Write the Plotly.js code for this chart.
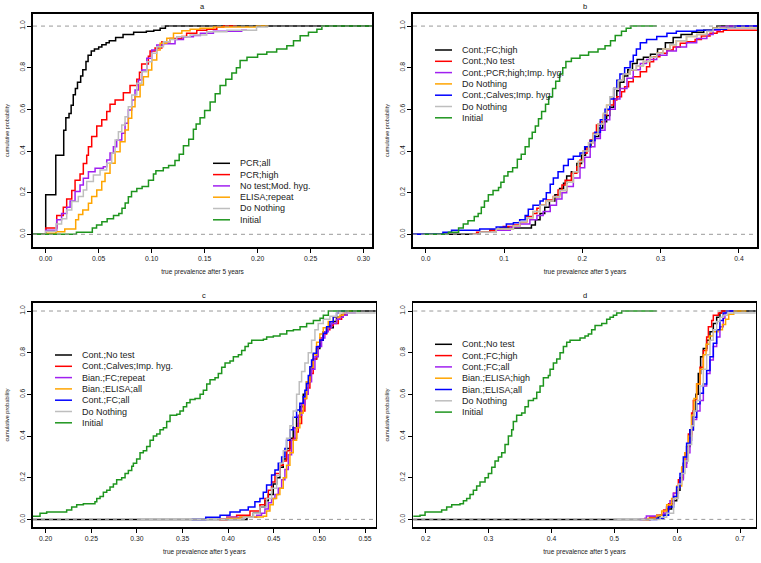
<!DOCTYPE html>
<html><head><meta charset="utf-8">
<script src="https://cdn.plot.ly/plotly-3.0.1.min.js"></script>
<style>html,body{margin:0;padding:0;background:#fff}#chart{width:761px;height:563px}</style>
</head><body><div id="chart"></div>
<script>
// ---------------- DATA (knots of empirical CDFs: [prevalence, cumulative probability]) -------------
// Panel a
const aLabels = ["PCR;all","PCR;high","No test;Mod. hyg.","ELISA;repeat","Do Nothing","Initial"];
const aXTicks = [0.00,0.05,0.10,0.15,0.20,0.25,0.30];
const a_PCRall = [[-0.05,0],[0,0.19],[0.0095,0.38],[0.017,0.50],[0.019,0.56],[0.022,0.58],[0.024,0.62],[0.026,0.67],[0.028,0.70],[0.030,0.73],[0.033,0.76],[0.035,0.79],[0.038,0.83],[0.040,0.86],[0.043,0.88],[0.046,0.89],[0.050,0.90],[0.053,0.91],[0.057,0.92],[0.060,0.93],[0.066,0.945],[0.073,0.96],[0.083,0.97],[0.095,0.975],[0.102,0.98],[0.108,0.99],[0.113,1.0],[0.40,1.0]];
const a_PCRhigh = [[-0.003,0],[0,0.03],[0.0104,0.09],[0.0166,0.13],[0.0198,0.17],[0.0246,0.21],[0.0277,0.26],[0.0324,0.29],[0.0355,0.34],[0.0387,0.38],[0.0403,0.42],[0.0434,0.47],[0.0482,0.52],[0.0529,0.55],[0.0576,0.59],[0.0607,0.625],[0.0655,0.645],[0.0733,0.68],[0.0796,0.715],[0.086,0.745],[0.0885,0.778],[0.0906,0.818],[0.0969,0.855],[0.0985,0.88],[0.1032,0.895],[0.1096,0.925],[0.1174,0.94],[0.1285,0.95],[0.133,0.965],[0.1426,0.98],[0.152,0.985],[0.1615,0.995],[0.168,1.0],[0.18,1.0]];
const a_NoTest = [[-0.003,0],[0,0.02],[0.0104,0.07],[0.015,0.10],[0.0198,0.13],[0.023,0.16],[0.0277,0.205],[0.0324,0.237],[0.0355,0.269],[0.0403,0.30],[0.0466,0.317],[0.0544,0.325],[0.0576,0.357],[0.0607,0.39],[0.0639,0.42],[0.067,0.453],[0.0718,0.485],[0.0749,0.533],[0.078,0.597],[0.0812,0.645],[0.0843,0.693],[0.0875,0.741],[0.0907,0.789],[0.0954,0.845],[0.1001,0.885],[0.1048,0.909],[0.1111,0.915],[0.1221,0.935],[0.13,0.949],[0.1394,0.955],[0.146,0.965],[0.1583,0.975],[0.185,0.98],[0.19,0.98]];
const a_ELISA = [[-0.003,0],[0,0.005],[0.0097,0.012],[0.018,0.025],[0.0283,0.07],[0.031,0.095],[0.035,0.117],[0.0403,0.149],[0.0434,0.181],[0.0482,0.213],[0.0529,0.253],[0.056,0.293],[0.0607,0.341],[0.0655,0.397],[0.0702,0.445],[0.0749,0.501],[0.078,0.557],[0.0812,0.613],[0.0843,0.661],[0.0891,0.717],[0.0922,0.757],[0.0969,0.789],[0.1001,0.837],[0.1048,0.885],[0.108,0.917],[0.1143,0.941],[0.1206,0.965],[0.1285,0.977],[0.1363,0.985],[0.1457,0.99],[0.1583,0.995],[0.199,1.0],[0.21,1.0]];
const a_DoNothing = [[-0.003,0],[0,0.015],[0.0097,0.05],[0.015,0.075],[0.0198,0.117],[0.0246,0.157],[0.0308,0.181],[0.0355,0.213],[0.0387,0.253],[0.045,0.285],[0.0513,0.309],[0.0576,0.341],[0.0623,0.39],[0.0655,0.453],[0.0686,0.493],[0.0718,0.525],[0.0749,0.565],[0.078,0.613],[0.0812,0.669],[0.086,0.725],[0.0907,0.781],[0.0954,0.829],[0.1001,0.869],[0.1048,0.901],[0.1111,0.925],[0.1174,0.935],[0.1237,0.949],[0.1363,0.957],[0.152,0.973],[0.171,0.98],[0.199,0.995],[0.21,0.995]];
const a_Initial = [[-0.05,0],[0.029,0.01],[0.044,0.03],[0.048,0.045],[0.053,0.06],[0.058,0.075],[0.064,0.09],[0.069,0.10],[0.072,0.125],[0.075,0.15],[0.078,0.18],[0.081,0.205],[0.086,0.22],[0.091,0.23],[0.097,0.26],[0.1017,0.29],[0.104,0.305],[0.111,0.32],[0.116,0.33],[0.122,0.355],[0.126,0.385],[0.130,0.425],[0.135,0.457],[0.1394,0.505],[0.142,0.53],[0.1457,0.56],[0.150,0.595],[0.1552,0.635],[0.160,0.675],[0.1646,0.715],[0.170,0.745],[0.1757,0.775],[0.18,0.80],[0.1835,0.835],[0.19,0.85],[0.20,0.865],[0.2087,0.875],[0.218,0.89],[0.2276,0.905],[0.2339,0.93],[0.2402,0.953],[0.248,0.97],[0.256,0.985],[0.2607,1.0],[0.40,1.0]];

// Panel b
const bLabels = ["Cont.;FC;high","Cont.;No test","Cont.;PCR;high;Imp. hyg.","Do Nothing","Cont.;Calves;Imp. hyg.","Do Nothing","Initial"];
const bXTicks = [0.0,0.1,0.2,0.3,0.4];
const b_FChigh = [[-0.1,0],[0.069,0.01],[0.082,0.02],[0.095,0.03],[0.135,0.045],[0.14,0.07],[0.146,0.10],[0.152,0.13],[0.158,0.16],[0.165,0.19],[0.171,0.22],[0.176,0.245],[0.18,0.28],[0.186,0.30],[0.193,0.34],[0.199,0.38],[0.204,0.42],[0.211,0.45],[0.216,0.47],[0.221,0.51],[0.226,0.54],[0.231,0.57],[0.235,0.61],[0.24,0.65],[0.244,0.69],[0.248,0.73],[0.253,0.76],[0.258,0.79],[0.264,0.82],[0.27,0.84],[0.278,0.85],[0.287,0.865],[0.296,0.89],[0.306,0.92],[0.316,0.945],[0.326,0.96],[0.34,0.97],[0.355,0.98],[0.367,0.99],[0.372,1.0],[0.5,1.0]];
const b_NoTest = [[0.06,0],[0.065,0.01],[0.082,0.02],[0.099,0.037],[0.112,0.045],[0.12,0.06],[0.129,0.085],[0.137,0.10],[0.142,0.125],[0.146,0.14],[0.154,0.165],[0.163,0.181],[0.169,0.213],[0.174,0.237],[0.178,0.26],[0.186,0.293],[0.193,0.325],[0.197,0.357],[0.201,0.389],[0.206,0.42],[0.21,0.453],[0.214,0.485],[0.218,0.525],[0.223,0.541],[0.227,0.573],[0.231,0.597],[0.235,0.621],[0.24,0.645],[0.244,0.661],[0.25,0.685],[0.254,0.709],[0.259,0.733],[0.265,0.757],[0.274,0.781],[0.282,0.805],[0.286,0.829],[0.291,0.853],[0.299,0.869],[0.308,0.885],[0.316,0.90],[0.325,0.917],[0.333,0.925],[0.344,0.936],[0.352,0.952],[0.363,0.965],[0.372,0.973],[0.38,0.98],[0.5,0.98]];
const b_PCRhigh = [[0.06,0],[0.069,0.01],[0.09,0.02],[0.108,0.035],[0.12,0.05],[0.133,0.07],[0.142,0.09],[0.15,0.11],[0.159,0.14],[0.167,0.17],[0.174,0.20],[0.18,0.23],[0.1885,0.27],[0.197,0.32],[0.203,0.37],[0.21,0.42],[0.216,0.46],[0.223,0.50],[0.229,0.55],[0.235,0.60],[0.242,0.65],[0.248,0.70],[0.257,0.75],[0.265,0.79],[0.274,0.82],[0.282,0.84],[0.295,0.86],[0.308,0.88],[0.32,0.90],[0.333,0.92],[0.346,0.94],[0.359,0.96],[0.367,0.98],[0.376,0.995],[0.384,1.0],[0.5,1.0]];
const b_Calves = [[-0.1,0],[0.022,0.01],[0.033,0.02],[0.069,0.025],[0.09,0.035],[0.103,0.05],[0.112,0.055],[0.12,0.07],[0.127,0.09],[0.131,0.12],[0.137,0.14],[0.146,0.16],[0.15,0.17],[0.154,0.20],[0.159,0.24],[0.163,0.27],[0.169,0.30],[0.176,0.33],[0.182,0.36],[0.1885,0.375],[0.197,0.39],[0.203,0.42],[0.21,0.45],[0.216,0.49],[0.223,0.55],[0.229,0.60],[0.235,0.65],[0.24,0.70],[0.244,0.74],[0.248,0.77],[0.254,0.80],[0.261,0.83],[0.265,0.86],[0.269,0.89],[0.274,0.92],[0.282,0.935],[0.295,0.95],[0.308,0.965],[0.32,0.975],[0.346,0.98],[0.367,0.985],[0.384,0.99],[0.395,1.0],[0.5,1.0]];
const b_DoNothing = [[0.06,0],[0.069,0.01],[0.09,0.025],[0.112,0.04],[0.12,0.06],[0.129,0.08],[0.137,0.11],[0.146,0.14],[0.154,0.16],[0.163,0.18],[0.171,0.21],[0.18,0.25],[0.1885,0.30],[0.195,0.35],[0.201,0.40],[0.208,0.44],[0.214,0.48],[0.22,0.53],[0.227,0.58],[0.231,0.62],[0.235,0.66],[0.24,0.70],[0.246,0.74],[0.252,0.77],[0.261,0.79],[0.269,0.81],[0.278,0.83],[0.286,0.85],[0.295,0.87],[0.303,0.89],[0.312,0.91],[0.32,0.93],[0.333,0.95],[0.346,0.96],[0.359,0.975],[0.367,0.99],[0.5,0.99]];
const b_Initial = [[-0.003,0],[0.029,0.01],[0.042,0.03],[0.048,0.05],[0.054,0.065],[0.062,0.085],[0.067,0.10],[0.071,0.13],[0.075,0.16],[0.08,0.19],[0.086,0.21],[0.093,0.225],[0.096,0.25],[0.1,0.28],[0.105,0.30],[0.111,0.32],[0.117,0.36],[0.122,0.385],[0.127,0.42],[0.132,0.46],[0.136,0.49],[0.14,0.52],[0.144,0.555],[0.148,0.59],[0.153,0.625],[0.157,0.66],[0.162,0.70],[0.166,0.735],[0.171,0.77],[0.175,0.80],[0.179,0.83],[0.186,0.845],[0.197,0.86],[0.208,0.875],[0.22,0.89],[0.229,0.905],[0.236,0.93],[0.242,0.955],[0.25,0.975],[0.256,0.99],[0.262,1.0],[0.295,1.0]];

// Panel c
const cLabels = ["Cont.;No test","Cont.;Calves;Imp. hyg.","Bian.;FC;repeat","Bian.;ELISA;all","Cont.;FC;all","Do Nothing","Initial"];
const cXTicks = [0.20,0.25,0.30,0.35,0.40,0.45,0.50,0.55];
const c_NoTest = [[0.1,0],[0.4206,0.01],[0.4276,0.03],[0.4348,0.06],[0.4403,0.09],[0.444,0.12],[0.4494,0.17],[0.4531,0.20],[0.4567,0.25],[0.4604,0.29],[0.464,0.34],[0.4677,0.39],[0.4713,0.44],[0.475,0.49],[0.4786,0.54],[0.4823,0.60],[0.4859,0.66],[0.4896,0.72],[0.4932,0.77],[0.4969,0.82],[0.5005,0.86],[0.5042,0.90],[0.5079,0.92],[0.5152,0.95],[0.5188,0.97],[0.5243,0.98],[0.53,1.0],[0.7,1.0]];
const c_Calves = [[0.39,0],[0.3985,0.01],[0.4093,0.02],[0.4239,0.04],[0.4348,0.07],[0.4403,0.10],[0.444,0.14],[0.4476,0.18],[0.4513,0.22],[0.4567,0.26],[0.4604,0.28],[0.464,0.33],[0.4677,0.38],[0.4713,0.39],[0.475,0.42],[0.4768,0.46],[0.4805,0.52],[0.4841,0.58],[0.4859,0.63],[0.4896,0.70],[0.4932,0.77],[0.4969,0.83],[0.5005,0.87],[0.5042,0.89],[0.5079,0.91],[0.5115,0.93],[0.5152,0.94],[0.5207,0.96],[0.5243,0.98],[0.528,1.0],[0.535,1.0]];
const c_FCrepeat = [[0.39,0],[0.3985,0.01],[0.4312,0.02],[0.4366,0.03],[0.4403,0.05],[0.444,0.08],[0.4476,0.10],[0.4513,0.12],[0.4549,0.15],[0.4586,0.19],[0.4622,0.24],[0.4659,0.31],[0.4695,0.38],[0.4732,0.44],[0.4768,0.50],[0.4805,0.55],[0.4841,0.60],[0.4878,0.66],[0.4914,0.72],[0.4951,0.78],[0.4987,0.83],[0.5024,0.87],[0.506,0.90],[0.5097,0.92],[0.5133,0.94],[0.5188,0.96],[0.5225,0.97],[0.5261,0.98],[0.53,0.99],[0.54,0.99]];
const c_ELISAall = [[0.39,0],[0.3985,0.005],[0.413,0.012],[0.4385,0.015],[0.4421,0.04],[0.4458,0.07],[0.4494,0.10],[0.4531,0.12],[0.4567,0.15],[0.4604,0.20],[0.464,0.26],[0.4677,0.32],[0.4713,0.38],[0.475,0.44],[0.4786,0.51],[0.4823,0.58],[0.4859,0.66],[0.4896,0.73],[0.4932,0.79],[0.4969,0.85],[0.5005,0.89],[0.5042,0.92],[0.5097,0.95],[0.5152,0.97],[0.5225,0.98],[0.5261,1.0],[0.535,1.0]];
const c_FCall = [[0.36,0],[0.3754,0.01],[0.3911,0.02],[0.402,0.036],[0.413,0.045],[0.422,0.06],[0.4293,0.085],[0.4348,0.10],[0.4385,0.13],[0.4421,0.165],[0.4476,0.213],[0.4513,0.237],[0.4549,0.27],[0.4586,0.30],[0.4622,0.34],[0.464,0.38],[0.4677,0.43],[0.4713,0.49],[0.475,0.525],[0.4786,0.557],[0.4823,0.589],[0.4841,0.62],[0.4859,0.652],[0.4878,0.69],[0.4896,0.733],[0.4914,0.765],[0.4932,0.797],[0.4969,0.829],[0.5005,0.861],[0.5042,0.893],[0.5079,0.925],[0.5115,0.949],[0.5152,0.973],[0.5188,0.989],[0.5207,1.0],[0.53,1.0]];
const c_DoNothing = [[0.30,0],[0.4166,0.01],[0.4276,0.03],[0.4348,0.06],[0.4421,0.10],[0.4476,0.15],[0.4531,0.21],[0.4567,0.27],[0.4604,0.33],[0.464,0.39],[0.4677,0.45],[0.4713,0.52],[0.475,0.60],[0.4779,0.66],[0.4805,0.71],[0.4841,0.75],[0.4878,0.80],[0.4914,0.86],[0.4951,0.91],[0.4987,0.94],[0.5042,0.96],[0.5115,0.975],[0.5188,0.99],[0.7,0.99]];
const c_Initial = [[0.1,0.015],[0.1938,0.03],[0.2011,0.035],[0.223,0.045],[0.2285,0.06],[0.234,0.07],[0.2413,0.075],[0.254,0.085],[0.256,0.10],[0.2596,0.11],[0.2632,0.13],[0.2669,0.14],[0.2705,0.155],[0.2742,0.17],[0.2778,0.19],[0.2833,0.20],[0.287,0.22],[0.2906,0.235],[0.2943,0.255],[0.2961,0.27],[0.2997,0.29],[0.3034,0.32],[0.307,0.33],[0.3107,0.35],[0.3144,0.38],[0.318,0.40],[0.3217,0.41],[0.3253,0.43],[0.329,0.44],[0.3326,0.47],[0.3363,0.50],[0.3436,0.505],[0.3472,0.52],[0.3509,0.54],[0.3545,0.56],[0.3582,0.575],[0.3637,0.58],[0.3692,0.60],[0.3728,0.62],[0.3765,0.65],[0.3801,0.67],[0.3856,0.68],[0.3892,0.70],[0.3929,0.73],[0.3966,0.75],[0.402,0.76],[0.4057,0.78],[0.4112,0.79],[0.4148,0.81],[0.4185,0.83],[0.4221,0.845],[0.4258,0.86],[0.4386,0.865],[0.4422,0.875],[0.4495,0.88],[0.4568,0.89],[0.4642,0.905],[0.4715,0.91],[0.4788,0.925],[0.486,0.94],[0.4934,0.955],[0.5007,0.965],[0.5043,0.98],[0.5098,1.0],[0.545,1.0]];

// Panel d
const dLabels = ["Cont.;No test","Cont.;FC;high","Cont.;FC;all","Bian.;ELISA;high","Bian.;ELISA;all","Do Nothing","Initial"];
const dXTicks = [0.2,0.3,0.4,0.5,0.6,0.7];
const d_NoTest = [[0.1,0],[0.5568,0.01],[0.5728,0.02],[0.5833,0.05],[0.5912,0.09],[0.5992,0.14],[0.6045,0.20],[0.6098,0.27],[0.615,0.35],[0.6203,0.43],[0.6257,0.52],[0.6299,0.60],[0.6336,0.70],[0.6373,0.78],[0.6416,0.82],[0.6469,0.86],[0.6522,0.90],[0.6575,0.94],[0.6628,0.97],[0.668,0.99],[0.6707,1.0],[0.8,1.0]];
const d_FChigh = [[0.55,0],[0.5568,0.01],[0.5675,0.02],[0.5785,0.045],[0.5864,0.075],[0.5943,0.125],[0.6019,0.19],[0.6072,0.25],[0.6125,0.32],[0.6178,0.41],[0.623,0.51],[0.6257,0.57],[0.631,0.65],[0.6363,0.73],[0.6416,0.81],[0.6469,0.875],[0.6496,0.925],[0.6549,0.955],[0.6575,0.98],[0.6655,0.99],[0.6707,1.0],[0.68,1.0]];
const d_FCall = [[0.54,0],[0.5488,0.005],[0.551,0.016],[0.5675,0.02],[0.578,0.03],[0.583,0.06],[0.5886,0.09],[0.5939,0.125],[0.5992,0.155],[0.6045,0.19],[0.6098,0.25],[0.615,0.32],[0.6203,0.38],[0.623,0.43],[0.6257,0.48],[0.631,0.52],[0.6363,0.57],[0.6416,0.64],[0.6469,0.70],[0.6522,0.765],[0.6575,0.83],[0.6628,0.875],[0.668,0.925],[0.6733,0.965],[0.676,0.99],[0.6787,1.0],[0.69,1.0]];
const d_ELISAhigh = [[0.545,0],[0.5541,0.005],[0.5675,0.02],[0.5754,0.04],[0.5833,0.07],[0.5912,0.10],[0.5992,0.16],[0.6072,0.25],[0.6125,0.32],[0.6178,0.40],[0.623,0.50],[0.6268,0.58],[0.631,0.65],[0.6363,0.72],[0.6416,0.79],[0.6459,0.84],[0.6512,0.88],[0.6575,0.90],[0.665,0.91],[0.672,0.935],[0.677,0.96],[0.682,0.985],[0.69,1.0],[0.71,1.0]];
const d_ELISAall = [[0.555,0],[0.5675,0.005],[0.5785,0.02],[0.5864,0.06],[0.5943,0.11],[0.5992,0.155],[0.6045,0.22],[0.6098,0.30],[0.615,0.365],[0.6203,0.43],[0.6257,0.49],[0.631,0.555],[0.6363,0.605],[0.6416,0.65],[0.6469,0.715],[0.6522,0.78],[0.6575,0.845],[0.6628,0.91],[0.668,0.955],[0.6733,0.99],[0.6787,1.0],[0.69,1.0]];
const d_DoNothing = [[0.5,0],[0.5728,0.01],[0.5833,0.03],[0.5943,0.10],[0.6019,0.17],[0.6072,0.22],[0.6125,0.28],[0.6178,0.36],[0.623,0.45],[0.6268,0.52],[0.631,0.57],[0.6363,0.64],[0.6416,0.72],[0.6469,0.79],[0.6522,0.86],[0.6575,0.91],[0.6628,0.95],[0.668,0.97],[0.6733,0.98],[0.68,0.99],[0.8,0.99]];
const d_Initial = [[0.1,0.015],[0.191,0.02],[0.199,0.035],[0.2254,0.045],[0.2334,0.06],[0.2414,0.07],[0.2546,0.075],[0.26,0.09],[0.2652,0.10],[0.2705,0.12],[0.2758,0.14],[0.2811,0.16],[0.2864,0.18],[0.2944,0.20],[0.2997,0.22],[0.305,0.25],[0.3103,0.28],[0.3156,0.30],[0.3209,0.32],[0.3262,0.36],[0.3315,0.40],[0.3368,0.43],[0.3394,0.47],[0.3447,0.50],[0.3527,0.51],[0.358,0.54],[0.3633,0.57],[0.3713,0.58],[0.3766,0.61],[0.3819,0.64],[0.3872,0.68],[0.3951,0.69],[0.3978,0.72],[0.4031,0.75],[0.4084,0.77],[0.4137,0.80],[0.419,0.83],[0.4243,0.85],[0.4296,0.86],[0.4455,0.87],[0.4534,0.88],[0.4587,0.89],[0.464,0.91],[0.4694,0.93],[0.48,0.94],[0.4879,0.96],[0.4932,0.97],[0.4985,0.98],[0.5038,0.99],[0.5118,1.0],[0.5675,1.0]];

const yTicks = [0.0,0.2,0.4,0.6,0.8,1.0];

// ---------------- STYLE / LAYOUT -------------
const W = 761, H = 563;
const BLACK='#000000', RED='#FF0000', PURPLE='#A020F0', ORANGE='#FFA500', BLUE='#0000FF', GREY='#BEBEBE', GREEN='#1E951E';
const FONT = 'Liberation Sans, Arial, sans-serif';

const panels = [
  {title:'a', ax:'', box:[33,14,372,247], xr:[-0.012,0.308], yr:[-0.061,1.058], xt:aXTicks, dec:2,
   series:[a_PCRall,a_PCRhigh,a_NoTest,a_ELISA,a_DoNothing,a_Initial], labels:aLabels,
   colors:[BLACK,RED,PURPLE,ORANGE,GREY,GREEN], leg:{l0:213,l1:230,tx:238,y0:163.3}},
  {title:'b', ax:'2', box:[413,14,757,247], xr:[-0.0162,0.423], yr:[-0.061,1.058], xt:bXTicks, dec:1,
   series:[b_FChigh,b_NoTest,b_PCRhigh,b_DoNothing,b_Calves,b_DoNothing,b_Initial], labels:bLabels,
   colors:[BLACK,RED,PURPLE,ORANGE,BLUE,GREY,GREEN], leg:{l0:435,l1:452,tx:460,y0:50}},
  {title:'c', ax:'3', box:[33,302.7,375.7,527.3], xr:[0.1861,0.5617], yr:[-0.038,1.04], xt:cXTicks, dec:2,
   series:[c_NoTest,c_Calves,c_FCrepeat,c_ELISAall,c_FCall,c_DoNothing,c_Initial], labels:cLabels,
   colors:[BLACK,RED,PURPLE,ORANGE,BLUE,GREY,GREEN], leg:{l0:55,l1:72,tx:80,y0:355}},
  {title:'d', ax:'4', box:[413.3,302.7,755.7,527.3], xr:[0.1803,0.7249], yr:[-0.038,1.04], xt:dXTicks, dec:1,
   series:[d_NoTest,d_FChigh,d_FCall,d_ELISAhigh,d_ELISAall,d_DoNothing,d_Initial], labels:dLabels,
   colors:[BLACK,RED,PURPLE,ORANGE,BLUE,GREY,GREEN], leg:{l0:435,l1:452,tx:460,y0:344.3}}
];

const traces = [];
const layout = {
  width: W, height: H, margin:{l:0,r:0,t:0,b:0}, paper_bgcolor:'#fff', plot_bgcolor:'#fff',
  showlegend:false, font:{family:FONT, color:'#222'}, shapes:[], annotations:[]
};
const px = v => v / W, py = v => 1 - v / H;
const ROWH = 11.3;

panels.forEach(p => {
  const xa = 'x' + p.ax, ya = 'y' + p.ax;
  const axCommon = {showline:true, mirror:true, linecolor:'#000', linewidth:1.6, ticks:'outside', ticklen:4,
    tickwidth:1, tickcolor:'#000', showgrid:false, zeroline:false, fixedrange:true,
    tickfont:{size:6.8, family:FONT, color:'#222'}};
  layout['xaxis' + p.ax] = Object.assign({}, axCommon, {
    domain:[px(p.box[0]), px(p.box[2])], range:p.xr, anchor:ya,
    tickmode:'array', tickvals:p.xt, ticktext:p.xt.map(v => v.toFixed(p.dec)),
    title:{text:'true prevalence after 5 years', font:{size:6.5, family:FONT, color:'#222'}, standoff:8}
  });
  layout['yaxis' + p.ax] = Object.assign({}, axCommon, {
    domain:[py(p.box[3]), py(p.box[1])], range:p.yr, anchor:xa,
    tickmode:'array', tickvals:yTicks, ticktext:yTicks.map(v => v.toFixed(1)), tickangle:-90,
    title:{text:'cumulative probability', font:{size:5.5, family:FONT, color:'#222'}, standoff:9}
  });
  p.series.forEach((s, i) => {
    traces.push({type:'scatter', mode:'lines', xaxis:xa, yaxis:ya,
      x:s.map(d => d[0]), y:s.map(d => d[1]), name:p.labels[i],
      line:{shape:'hv', color:p.colors[i], width:1.5}, hoverinfo:'skip', showlegend:false});
  });
  // dashed reference lines at 0 and 1
  [0, 1].forEach(v => layout.shapes.push({type:'line', xref:xa + ' domain', x0:0, x1:1, yref:ya, y0:v, y1:v,
    line:{color:'#9a9a9a', width:1, dash:'4px,4px'}, layer:'above'}));
  // panel title
  layout.annotations.push({xref:'paper', yref:'paper', x:px((p.box[0] + p.box[2]) / 2), y:py(p.box[1] - 7),
    text:p.title, showarrow:false, xanchor:'center', yanchor:'middle', font:{size:7.5, family:FONT, color:'#111'}});
  // legend
  p.labels.forEach((lab, i) => {
    const yy = p.leg.y0 + i * ROWH;
    layout.shapes.push({type:'line', xref:'paper', yref:'paper', x0:px(p.leg.l0), x1:px(p.leg.l1), y0:py(yy), y1:py(yy),
      line:{color:p.colors[i], width:1.5}});
    layout.annotations.push({xref:'paper', yref:'paper', x:px(p.leg.tx), y:py(yy), text:lab, showarrow:false,
      xanchor:'left', yanchor:'middle', font:{size:9, family:FONT, color:'#222'}});
  });
});

Plotly.newPlot('chart', traces, layout, {displayModeBar:false, staticPlot:true});
</script>
</body></html>
